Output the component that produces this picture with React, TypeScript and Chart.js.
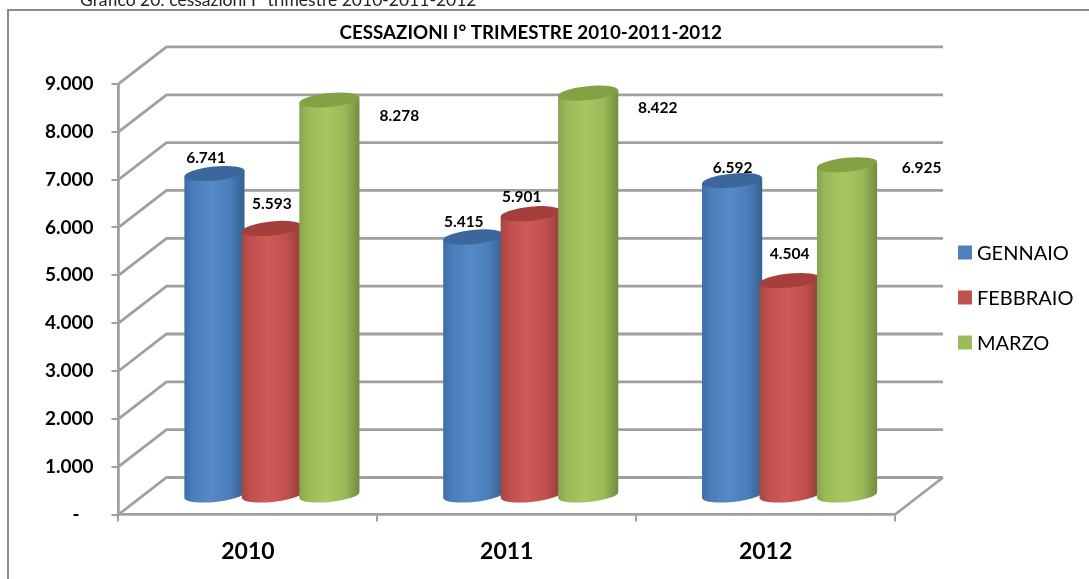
import React, { useEffect, useRef } from "react";
import { Chart, registerables } from "chart.js";

Chart.register(...registerables);

const years = ["2010", "2011", "2012"];
const gennaio = [6741, 5415, 6592];
const febbraio = [5593, 5901, 4504];
const marzo = [8278, 8422, 6925];
const seriesNames = ["GENNAIO", "FEBBRAIO", "MARZO"];
const chartTitle = "CESSAZIONI I° TRIMESTRE 2010-2011-2012";
const caption = "Grafico 20: cessazioni I° trimestre 2010-2011-2012";

// Base colour and shading of each cylinder: edge, side, highlight, far edge, cap.
const palette = [
  { base: "#4f81bd", edge: "#3d6da6", side: "#4b7db9", light: "#5589c8", far: "#34608f", cap: "#3b679c" },
  { base: "#c0504d", edge: "#a54644", side: "#c04f4c", light: "#cf5b58", far: "#8f3b39", cap: "#a53f3d" },
  { base: "#9bbb59", edge: "#86a350", side: "#9aba58", light: "#a6c85f", far: "#728c42", cap: "#83a145" },
];

// Where each value label sits relative to the centre of its cylinder's cap.
const labelNudge = [
  [[-8.5, -16], [-9.5, -15], [0.5, -12.5]],
  [[0, -24], [-9, -16.5], [0, -27]],
  [[70, 16], [69.5, 15], [74.5, 3.5]],
];

const GRID = "#a0a0a0";
const INK = "#000";
const DEPTH_X = 48;
const DEPTH_Y = 37;
const FONT = "Lato";

const groupThousands = (v: number) => String(Math.round(v)).replace(/\B(?=(\d{3})+$)/g, ".");

const scene = {
  id: "scene",
  beforeDraw(chart: any) {
    const { ctx } = chart;
    ctx.save();
    ctx.fillStyle = "#fff";
    ctx.fillRect(0, 0, chart.width, chart.height);
    // Outer frame: only the top and left sides fall inside the page.
    ctx.strokeStyle = "#8c8c8c";
    ctx.lineWidth = 2;
    ctx.beginPath();
    ctx.moveTo(8, chart.height);
    ctx.lineTo(8, 10);
    ctx.lineTo(chart.width, 10);
    ctx.stroke();
    // Caption cut off by the top of the page.
    ctx.fillStyle = "#222";
    ctx.font = `17.5px ${FONT}`;
    ctx.textAlign = "left";
    ctx.textBaseline = "alphabetic";
    ctx.fillText(caption, 80, 5.5);
    ctx.restore();
  },
  afterLayout(chart: any) {
    // Centre the title over the back wall of the plot.
    const t = chart.titleBlock;
    const centre = (chart.chartArea.left + chart.chartArea.right + DEPTH_X) / 2;
    const half = 300;
    t.left = centre - half;
    t.right = centre + half;
  },
  beforeDatasetsDraw(chart: any) {
    const { ctx, chartArea, scales } = chart;
    const y = scales.y;
    ctx.save();
    // Back wall and side wall lines for every tick, floor edge on the right.
    ctx.strokeStyle = GRID;
    ctx.lineWidth = 2.8;
    y.ticks.forEach((tick: any) => {
      const py = y.getPixelForValue(tick.value);
      ctx.beginPath();
      ctx.moveTo(chartArea.left, py);
      ctx.lineTo(chartArea.left + DEPTH_X, py - DEPTH_Y);
      ctx.lineTo(chartArea.right + DEPTH_X, py - DEPTH_Y);
      ctx.stroke();
    });
    ctx.beginPath();
    ctx.moveTo(chartArea.right, chartArea.bottom);
    ctx.lineTo(chartArea.right + DEPTH_X, chartArea.bottom - DEPTH_Y);
    ctx.stroke();

    // Cylinders stand in the middle of the floor's depth.
    chart.data.datasets.forEach((_: any, d: number) => {
      const shade = palette[d];
      chart.getDatasetMeta(d).data.forEach((bar: any) => {
        const cx = bar.x + DEPTH_X / 2;
        const top = bar.y - DEPTH_Y / 2;
        const bottom = bar.base - DEPTH_Y / 2;
        const rx = bar.width / 2 + 1.5;
        const ry = 7;
        const tilt = -0.1;
        const dx = rx * Math.cos(tilt);
        const dy = rx * Math.sin(tilt);

        const g = ctx.createLinearGradient(cx - rx, 0, cx + rx, 0);
        g.addColorStop(0, shade.edge);
        g.addColorStop(0.14, shade.side);
        g.addColorStop(0.45, shade.light);
        g.addColorStop(0.76, shade.side);
        g.addColorStop(1, shade.far);
        ctx.fillStyle = g;
        ctx.beginPath();
        ctx.moveTo(cx - dx, top - dy);
        ctx.lineTo(cx - dx, bottom - dy);
        ctx.ellipse(cx, bottom, rx, ry, tilt, Math.PI, 0, true);
        ctx.lineTo(cx + dx, top + dy);
        ctx.closePath();
        ctx.fill();

        ctx.fillStyle = shade.cap;
        ctx.beginPath();
        ctx.ellipse(cx, top, rx, ry, tilt, 0, Math.PI * 2);
        ctx.fill();
      });
    });
    ctx.restore();
  },
  // The rectangles are replaced by the cylinders above.
  beforeDatasetDraw() {
    return false;
  },
  afterDatasetsDraw(chart: any) {
    const { ctx } = chart;
    ctx.save();
    ctx.fillStyle = INK;
    ctx.font = `bold 15.5px ${FONT}`;
    ctx.textAlign = "center";
    ctx.textBaseline = "middle";
    chart.data.datasets.forEach((ds: any, d: number) => {
      chart.getDatasetMeta(d).data.forEach((bar: any, i: number) => {
        const [nx, ny] = labelNudge[d][i];
        ctx.fillText(groupThousands(ds.data[i]), bar.x + DEPTH_X / 2 + nx, bar.y - DEPTH_Y / 2 + ny);
      });
    });

    // Legend to the right of the plot.
    ctx.font = `20px ${FONT}`;
    ctx.textAlign = "left";
    chart.data.datasets.forEach((ds: any, d: number) => {
      const rowY = 252.5 + d * 45;
      ctx.fillStyle = ds.backgroundColor;
      ctx.fillRect(958, rowY - 7, 14, 14);
      ctx.fillStyle = INK;
      ctx.fillText(ds.label, 977, rowY + 1);
    });
    ctx.restore();
  },
};

export default function App() {
  const ref = useRef<HTMLCanvasElement>(null);
  useEffect(() => {
    const chart = new Chart(ref.current!, {
      type: "bar",
      data: {
        labels: years,
        datasets: [gennaio, febbraio, marzo].map((values, i) => ({
          label: seriesNames[i],
          data: values,
          backgroundColor: palette[i].base,
          categoryPercentage: 0.666,
          barPercentage: 1,
        })),
      },
      options: {
        responsive: false,
        animation: false,
        layout: { padding: { top: 0, left: 0, right: 194, bottom: 0 } },
        plugins: {
          legend: { display: false },
          tooltip: { enabled: false },
          title: {
            display: true,
            text: chartTitle,
            color: INK,
            font: { family: FONT, size: 18.8, weight: "bold" },
            padding: { top: 22, bottom: 39.4 },
          },
        },
        scales: {
          x: {
            offset: true,
            afterFit: (s: any) => {
              s.height = 64.5;
            },
            grid: { offset: true, drawOnChartArea: false, color: GRID, lineWidth: 2, tickLength: 7 },
            border: { color: GRID, width: 2.8 },
            ticks: { color: INK, padding: 16, font: { family: FONT, size: 23, weight: "bold" } },
          },
          y: {
            min: 0,
            max: 9000,
            afterFit: (s: any) => {
              s.width = 118.5;
            },
            grid: { drawOnChartArea: false, color: GRID, lineWidth: 2, tickLength: 7 },
            border: { color: GRID, width: 2.8 },
            ticks: {
              stepSize: 1000,
              color: INK,
              padding: 18,
              font: { family: FONT, size: 19, weight: "bold" },
              callback: (v: any) => (Number(v) === 0 ? "-\u00a0\u00a0\u00a0" : groupThousands(Number(v))),
            },
          },
        },
      },
      plugins: [scene],
    } as any);
    return () => chart.destroy();
  }, []);
  return (
    <div style={{ position: "absolute", left: 0, top: 0, width: 1089, height: 579, overflow: "hidden" }}>
      <canvas ref={ref} width={1089} height={579} style={{ display: "block" }} />
    </div>
  );
}
